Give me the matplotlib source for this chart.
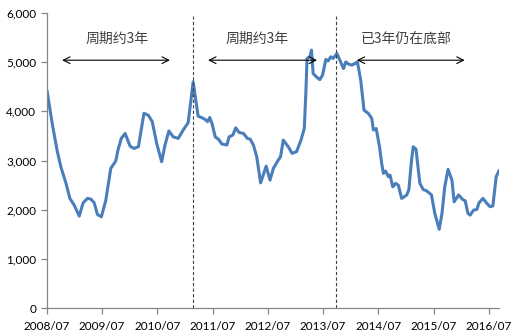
import matplotlib
matplotlib.use("Agg")
import matplotlib.pyplot as plt

plt.rcParams['font.family'] = ['Lato', 'Noto Sans CJK SC', 'DejaVu Sans']

# decimal year, value
years = [2008.51, 2008.60, 2008.69, 2008.76, 2008.85, 2008.92, 2009.00, 2009.09, 2009.16, 2009.24,
         2009.30, 2009.36, 2009.42, 2009.49, 2009.57, 2009.66, 2009.75, 2009.79, 2009.85, 2009.92,
         2010.01, 2010.08, 2010.16, 2010.26, 2010.34, 2010.41, 2010.49, 2010.58, 2010.64, 2010.71,
         2010.79, 2010.88, 2010.97, 2011.06, 2011.15, 2011.21, 2011.24, 2011.30, 2011.36, 2011.41,
         2011.45, 2011.49, 2011.55, 2011.61, 2011.67, 2011.76, 2011.80, 2011.87, 2011.92, 2011.98,
         2012.06, 2012.13, 2012.18, 2012.24, 2012.30, 2012.37, 2012.47, 2012.54, 2012.60, 2012.69,
         2012.73, 2012.78, 2012.87, 2012.94, 2013.02, 2013.10, 2013.16, 2013.19, 2013.21, 2013.26,
         2013.29, 2013.32, 2013.38, 2013.44, 2013.49, 2013.55, 2013.59, 2013.64, 2013.68, 2013.75,
         2013.81, 2013.87, 2013.91, 2013.96, 2014.02, 2014.08, 2014.12, 2014.18, 2014.24, 2014.32,
         2014.38, 2014.41, 2014.46, 2014.52, 2014.56, 2014.59, 2014.63, 2014.68, 2014.71, 2014.76,
         2014.81, 2014.86, 2014.92, 2015.01, 2015.05, 2015.10, 2015.13, 2015.18, 2015.25, 2015.31,
         2015.37, 2015.43, 2015.46, 2015.52, 2015.60, 2015.65, 2015.70, 2015.76, 2015.83, 2015.87,
         2015.95, 2016.02, 2016.07, 2016.12, 2016.16, 2016.22, 2016.28, 2016.32, 2016.39, 2016.46,
         2016.52, 2016.57, 2016.63, 2016.68]
values = [4400, 3760, 3200, 2860, 2540, 2230, 2090, 1870, 2140, 2230,
          2215, 2140, 1900, 1855, 2190, 2840, 2990, 3210, 3450, 3550,
          3290, 3245, 3280, 3960, 3920, 3790, 3350, 2975, 3310, 3600,
          3480, 3450, 3620, 3770, 4600, 4130, 3900, 3875, 3840, 3790,
          3875, 3755, 3480, 3430, 3335, 3315, 3480, 3520, 3665, 3570,
          3550, 3450, 3435, 3315, 3075, 2545, 2885, 2600, 2840, 3010,
          3075, 3415, 3280, 3145, 3180, 3415, 3650, 4430, 5075, 5110,
          5245, 4770, 4700, 4645, 4735, 5055, 5025, 5110, 5075, 5175,
          5020, 4870, 5005, 4960, 4940, 4975, 5005, 4635, 4025, 3955,
          3855, 3620, 3650, 3280, 2940, 2740, 2785, 2670, 2705, 2465,
          2535, 2500, 2230, 2295, 2400, 3010, 3280, 3230, 2535, 2410,
          2385, 2330, 2300, 1925, 1600, 1925, 2465, 2820, 2600, 2160,
          2300, 2210, 2180, 1925, 1890, 1990, 2005, 2140, 2230, 2130,
          2060, 2075, 2670, 2790]

tick_years = [2008.5, 2009.5, 2010.5, 2011.5, 2012.5, 2013.5, 2014.5, 2015.5, 2016.5]
tick_labels = ['2008/07', '2009/07', '2010/07', '2011/07', '2012/07', '2013/07', '2014/07', '2015/07', '2016/07']
y_ticks = [0, 1000, 2000, 3000, 4000, 5000, 6000]

divider_years = [2011.14, 2013.73]
arrow_spans = [(2008.78, 2010.73), (2011.42, 2013.39), (2014.11, 2016.06)]
arrow_level = 5040
notes = ['周期约3年', '周期约3年', '已3年仍在底部']
note_x = [2009.77, 2012.31, 2015.0]
note_level = 5470

fig = plt.figure(figsize=(5.14, 3.33), dpi=100)
ax = fig.add_axes([0.0907, 0.075, 0.880, 0.886])

ax.plot(years, values, color='#4a7ebb', lw=2.2, solid_joinstyle='round')

for d in divider_years:
    ax.plot([d, d], [0, 5930], color='#404040', lw=0.8, ls=(0, (3, 2)))

for (a, b) in arrow_spans:
    ax.annotate('', xy=(a, arrow_level), xytext=(b, arrow_level),
                arrowprops=dict(arrowstyle='<->', color='black', lw=0.8,
                                shrinkA=0, shrinkB=0, mutation_scale=12))
for t, x in zip(notes, note_x):
    ax.text(x, note_level, t, ha='center', va='center', fontsize=10,
            color='#404040', family=['Noto Sans CJK SC', 'DejaVu Sans'])

ax.set_xlim(2008.5, 2016.68)
ax.set_ylim(0, 6000)
ax.set_xticks(tick_years)
ax.set_xticklabels(tick_labels)
ax.set_yticks(y_ticks)
ax.set_yticklabels([f'{v:,}' for v in y_ticks])
for s in ['top', 'right']:
    ax.spines[s].set_visible(False)
for s in ['left', 'bottom']:
    ax.spines[s].set_color('#868686')
    ax.spines[s].set_linewidth(0.9)
ax.tick_params(axis='both', colors='#868686', labelcolor='black', labelsize=8.5, length=4, width=0.9)
ax.tick_params(axis='x', pad=5)

fig.savefig('out.png', dpi=100)
